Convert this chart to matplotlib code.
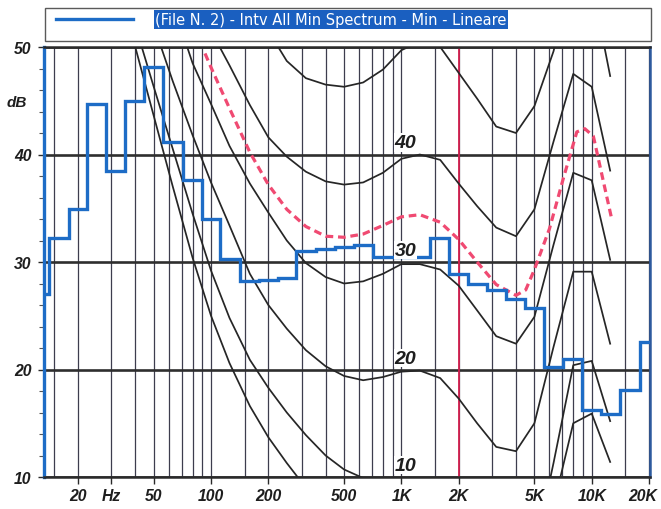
import numpy as np
import matplotlib
matplotlib.use("Agg")
import matplotlib.pyplot as plt
from matplotlib.patches import Rectangle
from matplotlib.transforms import blended_transform_factory, ScaledTranslation

plt.rcParams['font.family'] = ['Liberation Sans', 'DejaVu Sans']

# ---------------- data ----------------
band_freq = [12.5, 16, 20, 25, 31.5, 40, 50, 63, 80, 100, 125, 160, 200, 250,
             315, 400, 500, 630, 800, 1000, 1250, 1600, 2000, 2500, 3150,
             4000, 5000, 6300, 8000, 10000, 12500, 16000, 20000]
spectrum_db = [27.0, 32.2, 34.9, 44.7, 38.5, 45.0, 48.1, 41.2, 37.6, 34.0,
               30.3, 28.2, 28.35, 28.5, 31.0, 31.2, 31.35, 31.55, 30.5, 30.5,
               30.5, 32.2, 28.9, 28.0, 27.4, 26.6, 25.7, 20.2, 21.0, 16.2,
               15.9, 18.05, 22.6]

contour_freq = [31.5, 40, 50, 63, 80, 100, 125, 160, 200, 250, 315, 400, 500,
                630, 800, 1000, 1250, 1600, 2000, 2500, 3150, 4000, 5000, 6300,
                8000, 10000, 12500]
contour_0 = [57, 50, 43.6, 37.0, 30.4, 25.0, 20.6, 16.6, 13.7, 11.3, 9.0, 7.0,
             5.5, 4.5, 4.2, 4.5, 4.5, 3.5, 1.5, -1, -3, -3.5, -1, 7.3, 15.0,
             15.9, 11.4]
contour_10 = [58, 52, 46.3, 40.5, 34.5, 29.2, 24.8, 20.9, 18.3, 16.0, 13.9,
              12.0, 10.7, 9.9, 9.3, 9.5, 9.5, 9.0, 7.3, 5.0, 2.8, 2.4, 3.0,
              11.3, 20.4, 20.8, 15.2]
contour_20 = [70, 62, 52, 46.8, 41.8, 37.4, 33.4, 28.9, 26.0, 23.8, 21.8,
              20.3, 19.4, 19.0, 19.3, 19.8, 19.9, 19.2, 17.3, 15.0, 12.8, 12.4,
              15.0, 22.1, 29.1, 29.1, 22.4]
contour_30 = [75, 68, 62, 54, 48.5, 44.7, 40.8, 37.3, 34.6, 32.0, 29.9, 28.6,
              28.0, 28.2, 28.9, 29.8, 29.8, 29.3, 27.8, 25.5, 23.1, 22.4, 24.9,
              31.6, 38.3, 37.6, 30.2]
contour_40 = [90, 80, 70, 62, 56, 51.5, 48.3, 44.6, 41.6, 39.8, 38.4, 37.5,
              37.2, 37.4, 38.3, 39.6, 40.0, 39.5, 37.3, 35.2, 33.2, 32.4, 34.9,
              41.2, 47.5, 46.3, 38.5]
contour_50 = [100, 92, 84, 76, 70, 64, 59, 56, 51.5, 48.7, 47.1, 46.5, 46.3,
              46.7, 47.9, 49.7, 50.5, 50.0, 47.6, 45.2, 42.6, 42.0, 44.5, 49.6,
              57, 56, 47.3]

contour_labels = ['10', '20', '30', '40']
contour_label_db = [11.1, 21.05, 31.1, 41.1]
contour_label_freq = 1050

ref_freq = [93, 100, 125, 160, 200, 250, 315, 400, 500, 630, 800, 1000, 1250,
            1600, 2000, 2500, 3150, 4000, 4500, 5000, 6000, 7100, 8350, 9200,
            10200, 12700]
ref_db = [49.4, 48.1, 44.3, 40.2, 37.2, 34.9, 33.3, 32.4, 32.3, 32.6, 33.4,
          34.2, 34.4, 33.7, 32.1, 30.0, 27.9, 26.9, 27.4, 29.3, 33.1, 37.8,
          42.1, 42.4, 41.7, 34.1]

marker_freq = 2000

x_tick_freq = [20, 30, 50, 100, 200, 500, 1000, 2000, 5000, 10000, 20000]
x_tick_labels = ['20', 'Hz', '50', '100', '200', '500', '1K', '2K', '5K',
                 '10K', '20K']
y_ticks = [10, 20, 30, 40, 50]
legend_label = '(File N. 2) - Intv All Min Spectrum - Min - Lineare'

# ---------------- figure ----------------
W, H = 661, 510
fig = plt.figure(figsize=(W / 100, H / 100), dpi=100)
ax = fig.add_axes([44 / W, 32 / H, 606 / W, 430 / H])
ax.set_xscale('log')
ax.set_xlim(13.26, 20240)
ax.set_ylim(10, 50)

blue = '#1d6cc6'
dark = '#2a2a2a'

# grid
grid_mult = [1, 1.5, 2, 3, 4, 5, 6, 7, 8, 9]
grid_freq = [m * 10 ** k for k in range(1, 5) for m in grid_mult]
grid_freq = [g for g in grid_freq if 13.26 < g < 20240 and g not in x_tick_freq]
ax.set_xticks(x_tick_freq)
ax.set_xticklabels(x_tick_labels)
ax.set_xticks(grid_freq, minor=True)
ax.xaxis.set_minor_formatter(plt.NullFormatter())
ax.xaxis.grid(True, which='both', color='#3d3d4e', lw=0.9, zorder=1)
ax.set_yticks(y_ticks)
ax.set_yticks(np.arange(10, 50, 2), minor=True)
ax.yaxis.grid(True, which='major', color='#2e2e2e', lw=1.9, zorder=1)
ax.set_axisbelow(True)

ax.tick_params(axis='x', which='minor', length=0)
ax.tick_params(axis='x', which='major', length=5, width=1, direction='out',
               color=dark, pad=3)
ax.tick_params(axis='y', which='major', length=4, width=1, color=dark, pad=5)
ax.tick_params(axis='y', which='minor', length=3.5, width=0.8, color='#555')
for lab in ax.get_xticklabels() + ax.get_yticklabels():
    lab.set_fontsize(11.3)
    lab.set_fontweight('bold')
    lab.set_fontstyle('italic')
    lab.set_color('#1e1e1e')
# keep the last x label ("20K") inside the picture
last = ax.get_xticklabels()[-1]
last.set_transform(last.get_transform() +
                   ScaledTranslation(-6 / 100, 0, fig.dpi_scale_trans))

trans = blended_transform_factory(ax.transAxes, ax.transData)
ax.text(-0.045, 44.9, 'dB', transform=trans, ha='center', va='center',
        fontsize=11, fontweight='bold', fontstyle='italic', color='#1e1e1e')

for sp in ['top', 'bottom']:
    ax.spines[sp].set_color(dark)
    ax.spines[sp].set_linewidth(1.8)
ax.spines['left'].set_color(blue)
ax.spines['left'].set_linewidth(2.4)
ax.spines['right'].set_color('#2d5a9e')
ax.spines['right'].set_linewidth(1.8)

# red marker line
ax.axvline(marker_freq, color='#d41e4e', lw=1.3, zorder=2)

# contours
for c in [contour_0, contour_10, contour_20, contour_30, contour_40, contour_50]:
    ax.plot(contour_freq, c, color='#262626', lw=1.25, zorder=3)

# reference dashed curve
ax.plot(ref_freq, ref_db, color='#f04a72', lw=2.3, ls=(0, (2.4, 1.5)),
        zorder=4)

# spectrum steps
f = np.array(band_freq, dtype=float)
edges = np.concatenate([[f[0] / 2 ** (1 / 6)], np.sqrt(f[:-1] * f[1:]),
                        [f[-1] * 2 ** (1 / 6)]])
steps = ax.stairs(spectrum_db, edges, color=blue, lw=2.4, baseline=None,
                  zorder=5, label=legend_label)

# contour labels
for lab, yv in zip(contour_labels, contour_label_db):
    ax.text(contour_label_freq, yv, lab, ha='center', va='center',
            fontsize=14, fontweight='bold', fontstyle='italic',
            color='#1e1e1e', zorder=6,
            bbox=dict(facecolor='white', edgecolor='none', pad=0.5))

# legend box
fig.add_artist(Rectangle((45 / W, 1 - 42 / H), 606 / W, 33 / H,
                         transform=fig.transFigure, facecolor='white',
                         edgecolor='#5a5a5a', lw=1.0))
leg = fig.legend(handles=[steps], labels=[legend_label], loc='center left',
                 bbox_to_anchor=(56 / W, 1 - 20.5 / H), frameon=False,
                 handlelength=5.3, handletextpad=1.5,
                 prop={'family': 'DejaVu Sans', 'size': 10.5},
                 borderpad=0, borderaxespad=0)
for t in leg.get_texts():
    t.set_color('white')
    t.set_bbox(dict(facecolor='#1a5fc0', edgecolor='none', pad=1.2))

fig.savefig('out.png', dpi=100)
